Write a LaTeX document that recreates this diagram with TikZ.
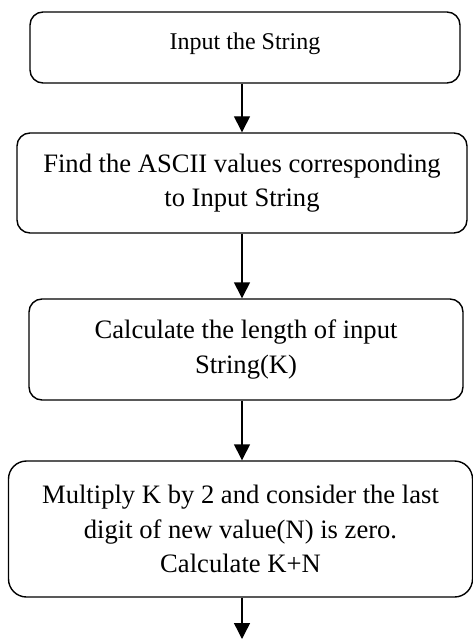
\documentclass[tikz,border=0pt]{standalone}
\usepackage{fontspec}
\setmainfont{Liberation Serif}
\usetikzlibrary{arrows.meta}
\begin{document}
\begin{tikzpicture}[x=1pt,y=-1pt,
  flowbox/.style={draw, line width=1.4pt, rounded corners=13pt, align=center, inner sep=0pt,
    font=\fontsize{26.6}{34.5}\selectfont},
  arr/.style={line width=1.4pt, -{Triangle[width=16pt,length=16pt]}}]
\useasboundingbox (0,0) rectangle (473,639);
\coordinate (ax) at (242,0);
\node[flowbox, minimum width=430pt, minimum height=71pt, font=\fontsize{24}{30}\selectfont, text depth=13pt] (b1) at (245,47.5) {Input the String};
\node[flowbox, minimum width=450pt, minimum height=100pt] (b2) at (242,183) {Find the ASCII values corresponding\\to Input String};
\node[flowbox, minimum width=434pt, minimum height=101pt] (b3) at (246,349.5) {Calculate the length of input\\String(K)};
\node[flowbox, minimum width=464pt, minimum height=136pt, rounded corners=18pt] (b4) at (240.5,529) {Multiply K by 2 and consider the last\\digit of new value(N) is zero.\\Calculate K+N};
\coordinate (end) at (242,639);
\draw[arr] (b1.south -| ax) -- (b2.north -| ax);
\draw[arr] (b2.south -| ax) -- (b3.north -| ax);
\draw[arr] (b3.south -| ax) -- (b4.north -| ax);
\draw[arr] (b4.south -| ax) -- (end);
\end{tikzpicture}
\end{document}
